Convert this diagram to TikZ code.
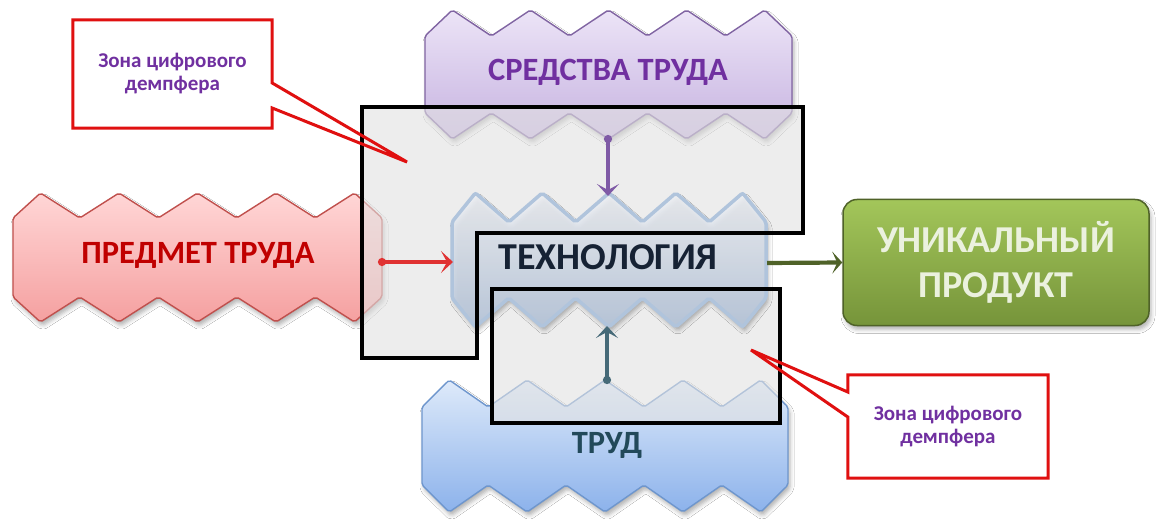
\documentclass[tikz,border=0pt]{standalone}
\usepackage{fontspec}
\setmainfont{Carlito}
\usetikzlibrary{arrows.meta,shadows.blur}
\definecolor{purB}{RGB}{128,100,162}
\definecolor{purT}{RGB}{112,48,160}
\definecolor{purTop}{RGB}{236,228,247}
\definecolor{purBot}{RGB}{198,178,224}
\definecolor{redB}{RGB}{192,80,77}
\definecolor{redT}{RGB}{192,0,0}
\definecolor{redTop}{RGB}{255,214,214}
\definecolor{redBot}{RGB}{245,160,160}
\definecolor{bluB}{RGB}{110,150,205}
\definecolor{bluT}{RGB}{34,73,90}
\definecolor{bluTop}{RGB}{222,234,250}
\definecolor{bluBot}{RGB}{140,178,235}
\definecolor{tecB}{RGB}{176,196,220}
\definecolor{tecT}{RGB}{22,34,52}
\definecolor{tecTop}{RGB}{240,242,246}
\definecolor{tecBot}{RGB}{184,200,222}
\definecolor{grnB}{RGB}{79,98,40}
\definecolor{grnTop}{RGB}{163,198,90}
\definecolor{grnBot}{RGB}{118,148,58}
\definecolor{grnT}{RGB}{235,241,222}
\definecolor{zonegray}{RGB}{226,226,226}
\definecolor{callred}{RGB}{224,16,16}
\definecolor{arrPur}{RGB}{127,90,166}
\definecolor{arrRed}{RGB}{224,50,50}
\definecolor{arrSl}{RGB}{70,106,120}

\newcommand\zigshape[6]{% #1 options, #2 L, #3 R, #4 top valley y, #5 amplitude, #6 bottom high y
  \pgfmathsetmacro\zs{(#3-#2)/4.7}%
  \pgfmathsetmacro\zh{\zs/2}%
  \pgfmathsetmacro\zm{0.35*\zs}%
  \path[#1] (#2,#4) -- ++(\zm,-#5) -- ++(\zh,#5) -- ++(\zh,-#5) -- ++(\zh,#5) -- ++(\zh,-#5)
     -- ++(\zh,#5) -- ++(\zh,-#5) -- ++(\zh,#5) -- ++(\zh,-#5) -- (#3,#4) -- (#3,#6)
     -- ++(-\zm,#5) -- ++(-\zh,-#5) -- ++(-\zh,#5) -- ++(-\zh,-#5) -- ++(-\zh,#5)
     -- ++(-\zh,-#5) -- ++(-\zh,#5) -- ++(-\zh,-#5) -- ++(-\zh,#5) -- (#2,#6) -- cycle;}

\begin{document}
\begin{tikzpicture}[x=1pt,y=-1pt,
  zig/.style={rounded corners=2pt, line width=1.4pt,
     blur shadow={shadow xshift=2pt, shadow yshift=-4pt, shadow opacity=30, shadow blur radius=4pt}},
  bigtxt/.style={font=\fontsize{32.5}{34}\selectfont\bfseries, inner sep=0pt},
  zonefill/.style={fill=zonegray, fill opacity=0.6},
  zoneline/.style={draw=black, line width=3.4pt},
  dotstart/.style={{Circle[length=8pt,width=8pt]}-{Stealth[length=12pt,width=22pt,inset=6pt]}, line width=3.3pt},
  calltext/.style={font=\fontsize{21}{23}\selectfont\bfseries, text=purT, align=center, fill=white, inner sep=0pt},
  callline/.style={draw=callred, line width=3pt, line join=miter}
]
\useasboundingbox[fill=white] (0,0) rectangle (1166,529);

% main zigzag shapes
\zigshape{zig, draw=redB, top color=redTop, bottom color=redBot}{13}{382}{218}{25}{297}
\zigshape{zig, draw=purB, top color=purTop, bottom color=purBot}{425}{792}{36}{26}{113}
\zigshape{zig, draw=bluB, top color=bluTop, bottom color=bluBot}{422}{788}{407}{27}{485}

% digital damper zones (fill)
\path[zonefill] (362,107) -- (803,107) -- (803,233) -- (477,233) -- (477,358) -- (362,358) -- cycle;
\path[zonefill] (492,289) rectangle (780,423);

% technology shape
\zigshape{zig, draw=tecB, line width=3.5pt, top color=tecTop, bottom color=tecBot, fill opacity=0.85}{452}{766}{222}{29}{298}

% digital damper zones (outline)
\draw[zoneline] (362,107) -- (803,107) -- (803,233) -- (477,233) -- (477,358) -- (362,358) -- cycle;
\draw[zoneline] (492,289) rectangle (780,423);

% labels
\node[bigtxt, text=purT] (sredstva) at (608,72) {СРЕДСТВА ТРУДА};
\node[bigtxt, text=redT] (predmet) at (198,255) {ПРЕДМЕТ ТРУДА};
\node[bigtxt, text=bluT] (trud) at (607,445) {ТРУД};
\node[font=\fontsize{38}{40}\selectfont\bfseries, text=tecT, inner sep=0pt] (tech) at (608,257) {ТЕХНОЛОГИЯ};

% connection points
\coordinate (srB) at (608,135);
\coordinate (teT) at (608,196);
\coordinate (prR) at (378,262);
\coordinate (teL) at (453,262);
\coordinate (trT) at (607,384);
\coordinate (teB) at (607,326);
\coordinate (teR) at (767,263);

\draw[dotstart, draw=arrPur, fill=arrPur] (srB) -- (teT);
\draw[dotstart, draw=arrRed, fill=arrRed] (prR) -- (teL);
\draw[dotstart, draw=arrSl, fill=arrSl, line width=3.6pt] (trT) -- (teB);

% product
\node[rounded corners=14pt, draw=grnB, line width=1.5pt, top color=grnTop, bottom color=grnBot,
      minimum width=306pt, minimum height=126pt, align=center, text=grnT,
      font=\fontsize{38}{45}\selectfont\bfseries,
      blur shadow={shadow xshift=2pt, shadow yshift=-4pt, shadow opacity=30, shadow blur radius=4pt}]
      (prod) at (996,262.5) {УНИКАЛЬНЫЙ\\ПРОДУКТ};
\draw[-{Stealth[length=10pt,width=22pt,inset=5pt]}, draw=grnB, fill=grnB, line width=4.2pt] (teR) -- (prod.west);

% callouts
\node[calltext, minimum width=199pt, minimum height=108pt] (c1) at (172.5,74) {Зона цифрового\\демпфера};
\coordinate (c1tip) at (407,162);
\draw[callline] ([yshift=-9pt]c1.east) -- (c1.north east) -- (c1.north west) -- (c1.south west)
   -- (c1.south east) -- ([yshift=-34pt]c1.east) -- (c1tip) -- cycle;

\node[calltext, minimum width=200pt, minimum height=103pt] (c2) at (948,426.5) {Зона цифрового\\демпфера};
\coordinate (c2tip) at (751,350);
\draw[callline] ([yshift=9.5pt]c2.west) -- (c2.south west) -- (c2.south east) -- (c2.north east)
   -- (c2.north west) -- ([yshift=34.5pt]c2.west) -- (c2tip) -- cycle;
\end{tikzpicture}
\end{document}
